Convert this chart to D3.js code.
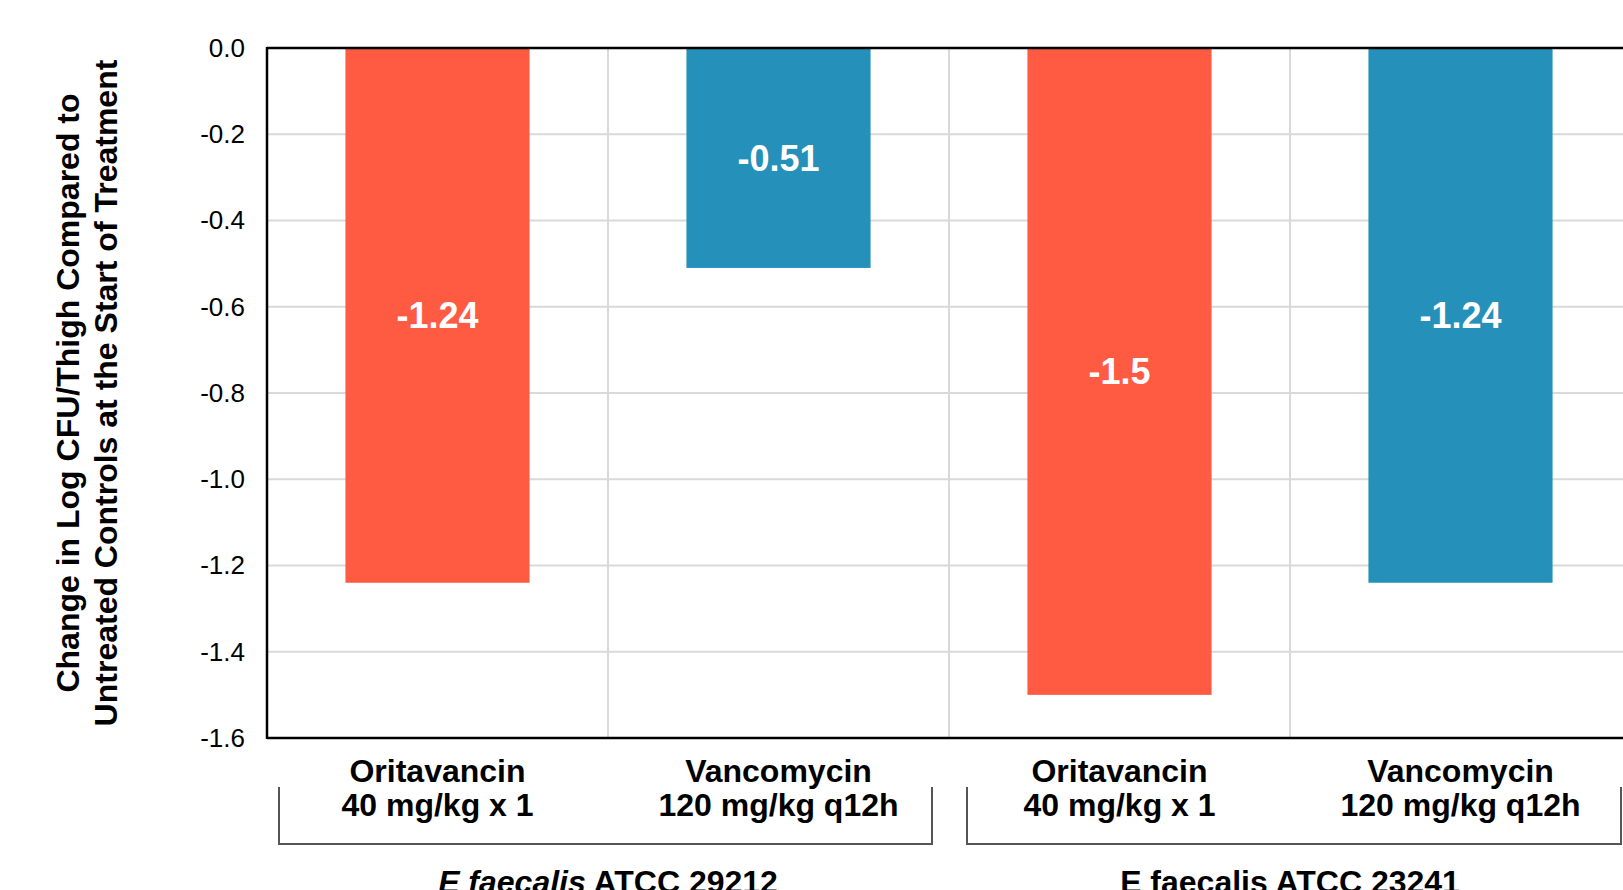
<!DOCTYPE html>
<html>
<head>
<meta charset="utf-8">
<script src="https://cdn.jsdelivr.net/npm/d3@7"></script>
<style>
  body { margin: 0; background: #fff; }
  svg { display: block; font-family: "Liberation Sans", Arial, sans-serif; }
  .grid line { stroke: #d9d9d9; stroke-width: 2; }
  .tick text { font-size: 26px; fill: #000; }
</style>
</head>
<body>
<svg width="1623" height="890"></svg>
<script>
var drugs = ['Oritavancin', 'Vancomycin', 'Oritavancin', 'Vancomycin'];
var doses = ['40 mg/kg x 1', '120 mg/kg q12h', '40 mg/kg x 1', '120 mg/kg q12h'];
var strains = ['29212', '29212', '23241', '23241'];
var values = [-1.24, -0.51, -1.5, -1.24];
var colors = ['#ff5a42', '#2591bb', '#ff5a42', '#2591bb'];
var groups = ['29212', '23241'];
var groupNames = [
  [{t: 'E faecalis', i: true}, {t: ' ATCC 29212', i: false}],
  [{t: 'E faecalis ATCC 23241', i: false}]
];
var yTicks = [0, -0.2, -0.4, -0.6, -0.8, -1.0, -1.2, -1.4, -1.6];
var yTitle = ['Change in Log CFU/Thigh Compared to', 'Untreated Controls at the Start of Treatment'];

var plotL = 267, plotR = 1631, plotT = 48, plotB = 738;
var svg = d3.select('svg');

var rows = values.map(function(v, i) {
  return {key: i, drug: drugs[i], dose: doses[i], strain: strains[i], value: v, color: colors[i]};
});

var x = d3.scaleBand().domain(rows.map(function(d) { return d.key; }))
  .range([plotL, plotR]).paddingInner(0.46).paddingOuter(0.23);
var xg = d3.scaleBand().domain(groups).range([plotL, plotR]);
var y = d3.scaleLinear().domain([0, -1.6]).range([plotT, plotB]);

// gridlines
var grid = svg.append('g').attr('class', 'grid');
grid.selectAll('line.h')
  .data(yTicks.filter(function(t) { return t !== 0 && t !== -1.6; }))
  .enter().append('line')
    .attr('x1', plotL).attr('x2', 1623)
    .attr('y1', function(d) { return y(d); })
    .attr('y2', function(d) { return y(d); });
grid.selectAll('line.v')
  .data(rows.slice(1))
  .enter().append('line')
    .attr('x1', function(d) { return x(d.key) - x.step() * x.paddingInner() / 2; })
    .attr('x2', function(d) { return x(d.key) - x.step() * x.paddingInner() / 2; })
    .attr('y1', plotT).attr('y2', plotB);

// bars
svg.append('g').selectAll('rect')
  .data(rows).enter().append('rect')
    .attr('x', function(d) { return x(d.key); })
    .attr('width', x.bandwidth())
    .attr('y', y(0))
    .attr('height', function(d) { return y(d.value) - y(0); })
    .attr('fill', function(d) { return d.color; });

// value labels
svg.append('g').selectAll('text')
  .data(rows).enter().append('text')
    .attr('x', function(d) { return x(d.key) + x.bandwidth() / 2; })
    .attr('y', function(d) { return (y(0) + y(d.value)) / 2; })
    .attr('dy', '0.36em')
    .attr('text-anchor', 'middle')
    .attr('fill', '#fff')
    .style('font-size', '36px')
    .style('font-weight', 'bold')
    .text(function(d) { return d.value; });

// y axis
var yAxis = svg.append('g')
  .attr('transform', 'translate(' + plotL + ',0)')
  .call(d3.axisLeft(y).tickValues(yTicks).tickSize(0).tickPadding(22));
yAxis.select('.domain').remove();
yAxis.selectAll('text').text(function(d) { return d3.format('.1f')(d).replace('\u2212', '-'); });

// frame lines
svg.append('line').attr('x1', plotL).attr('x2', plotL).attr('y1', plotT - 1).attr('y2', plotB + 1)
  .attr('stroke', '#000').attr('stroke-width', 2.5);
[0, -1.6].forEach(function(v) {
  svg.append('line').attr('x1', plotL).attr('x2', 1623).attr('y1', y(v)).attr('y2', y(v))
    .attr('stroke', '#000').attr('stroke-width', 2.5);
});

// y title
var yt = svg.append('text')
  .attr('transform', 'translate(79,' + ((plotT + plotB) / 2) + ') rotate(-90)')
  .attr('text-anchor', 'middle')
  .style('font-size', '32px').style('font-weight', 'bold');
yt.selectAll('tspan').data(yTitle).enter().append('tspan')
  .attr('x', 0).attr('dy', function(d, i) { return i ? '1.2em' : 0; })
  .text(function(d) { return d; });

// category labels
var cat = svg.append('g').selectAll('text')
  .data(rows).enter().append('text')
    .attr('x', function(d) { return x(d.key) + x.bandwidth() / 2; })
    .attr('y', 782)
    .attr('text-anchor', 'middle')
    .style('font-size', '32px').style('font-weight', 'bold');
cat.append('tspan').attr('x', function(d) { return x(d.key) + x.bandwidth() / 2; }).text(function(d) { return d.drug; });
cat.append('tspan').attr('x', function(d) { return x(d.key) + x.bandwidth() / 2; }).attr('dy', 34).text(function(d) { return d.dose; });

// group brackets
var insets = [[12, 17], [18, 10]];
svg.append('g').selectAll('path')
  .data(groups).enter().append('path')
    .attr('d', function(g, i) {
      var x0 = xg(g) + insets[i][0], x1 = xg(g) + xg.bandwidth() - insets[i][1];
      return 'M' + x0 + ',787V844H' + x1 + 'V787';
    })
    .attr('fill', 'none').attr('stroke', '#555').attr('stroke-width', 2);

// group labels
var gl = svg.append('g').selectAll('text')
  .data(groups).enter().append('text')
    .attr('x', function(g) { return xg(g) + xg.bandwidth() / 2; })
    .attr('y', 893)
    .attr('text-anchor', 'middle')
    .style('font-size', '32px').style('font-weight', 'bold');
gl.selectAll('tspan')
  .data(function(g, i) { return groupNames[i]; })
  .enter().append('tspan')
    .style('font-style', function(d) { return d.i ? 'italic' : 'normal'; })
    .text(function(d) { return d.t; });
</script>
</body>
</html>
